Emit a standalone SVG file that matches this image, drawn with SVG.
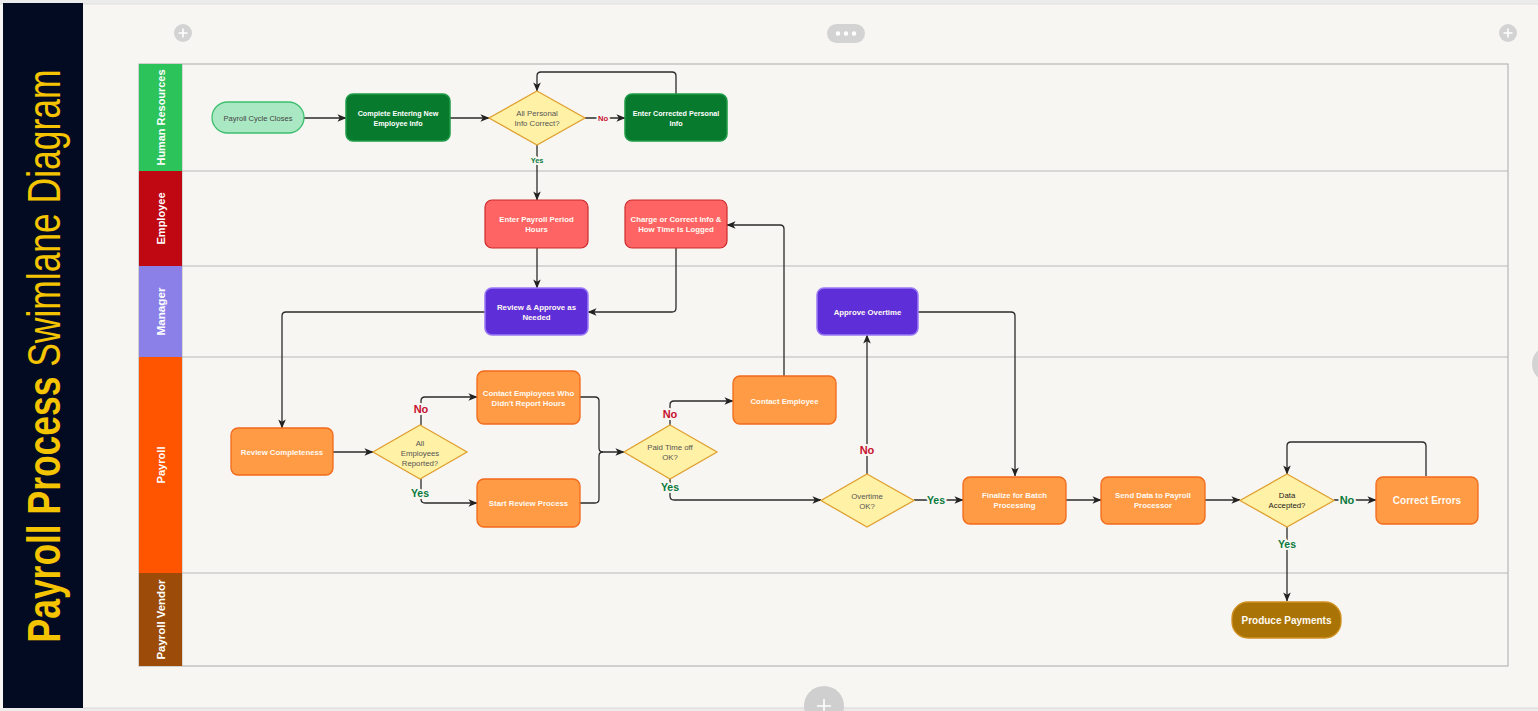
<svg xmlns="http://www.w3.org/2000/svg" width="1538" height="711" viewBox="0 0 1538 711">
<defs>
<marker id="arr" viewBox="0 0 10 10" refX="9.5" refY="5" markerWidth="9" markerHeight="9" orient="auto" markerUnits="userSpaceOnUse">
<path d="M0,0.8 L10,5 L0,9.2 L2.6,5 z" fill="#222"/>
</marker>
<style>
.c{fill:none;stroke:#2b2b2b;stroke-width:1.3}
.a{marker-end:url(#arr)}
text{font-family:"Liberation Sans",Arial,sans-serif}
.nt{font-weight:bold;fill:#fffaf2;text-anchor:middle;font-size:7.8px}
.ht{font-weight:bold;fill:#ffffff;text-anchor:middle;font-size:7.2px}
.dt{fill:#555;text-anchor:middle;font-size:7.8px}
.lbl{font-weight:bold;text-anchor:middle;paint-order:stroke;stroke:#f7f6f3;stroke-width:4px;stroke-linejoin:round}
.no{fill:#c8102e}
.yes{fill:#0b7a3b}
.lh{fill:#ffffff;text-anchor:middle;font-size:11.5px;font-weight:bold}
.hr{fill:#087a2e;stroke:#1f9c47;stroke-width:1.5}
.em{fill:#ff6464;stroke:#cc2b2b;stroke-width:1.2}
.mg{fill:#5e2ed8;stroke:#9a7af5;stroke-width:1.5}
.pr{fill:#ff9a45;stroke:#f26a1b;stroke-width:1.3}
.dm{fill:#fff1a6;stroke:#e0a030;stroke-width:1.3}
.ic{fill:#d3d3d3}
.pl{stroke:#fff;stroke-width:1.6;fill:none}
</style>
</defs>

<!-- canvas -->
<rect x="0" y="0" width="1538" height="711" fill="#f7f6f3"/>
<rect x="0" y="0" width="1538" height="4" fill="#ececec"/>
<line x1="0" y1="4" x2="1538" y2="4" stroke="#e0e0e0" stroke-width="1"/>
<rect x="0" y="708" width="1538" height="3" fill="#ececec"/>
<line x1="83" y1="708" x2="1538" y2="708" stroke="#d8d8d8" stroke-width="1"/>

<!-- title bar -->
<g id="title">
<rect x="3" y="3" width="80" height="705" fill="#020b22"/>
<text transform="translate(60,356) rotate(-90) scale(0.77,1)" text-anchor="middle" font-size="46" fill="#f5c400"><tspan font-weight="bold">Payroll Process</tspan> Swimlane Diagram</text>
</g>

<!-- UI icons -->
<g id="ui">
<circle cx="183" cy="33" r="9" class="ic"/>
<path d="M178.5,33 H187.5 M183,28.5 V37.5" class="pl"/>
<rect x="827" y="24" width="38" height="19" rx="9.5" class="ic"/>
<circle cx="838" cy="33.5" r="2.2" fill="#fff"/>
<circle cx="846" cy="33.5" r="2.2" fill="#fff"/>
<circle cx="854" cy="33.5" r="2.2" fill="#fff"/>
<circle cx="1508" cy="33" r="9" class="ic"/>
<path d="M1503.5,33 H1512.5 M1508,28.5 V37.5" class="pl"/>
<circle cx="1550" cy="364" r="18" class="ic"/>
<circle cx="824" cy="706" r="20" fill="#cfcfcf"/>
<path d="M817,706 H831 M824,699 V711" class="pl"/>
</g>

<!-- lanes -->
<g id="lanes">
<rect x="139" y="64" width="1369" height="602" fill="#f7f6f3" stroke="#b8b8b8" stroke-width="1.2"/>
<line x1="139" y1="171" x2="1508" y2="171" stroke="#b8b8b8" stroke-width="1.2"/>
<line x1="139" y1="266" x2="1508" y2="266" stroke="#b8b8b8" stroke-width="1.2"/>
<line x1="139" y1="357" x2="1508" y2="357" stroke="#b8b8b8" stroke-width="1.2"/>
<line x1="139" y1="573" x2="1508" y2="573" stroke="#b8b8b8" stroke-width="1.2"/>
<line x1="182" y1="64" x2="182" y2="666" stroke="#b8b8b8" stroke-width="1"/>
<g id="lane-hr"><rect x="139" y="64" width="43" height="107" fill="#2cc35a"/><text class="lh" transform="translate(165,117.5) rotate(-90)" textLength="96" lengthAdjust="spacingAndGlyphs">Human Resources</text></g>
<g id="lane-emp"><rect x="139" y="171" width="43" height="95" fill="#c00812"/><text class="lh" transform="translate(165,218.5) rotate(-90)" textLength="52" lengthAdjust="spacingAndGlyphs">Employee</text></g>
<g id="lane-mgr"><rect x="139" y="266" width="43" height="91" fill="#8b80e8"/><text class="lh" transform="translate(165,311.5) rotate(-90)" textLength="48" lengthAdjust="spacingAndGlyphs">Manager</text></g>
<g id="lane-pay"><rect x="139" y="357" width="43" height="216" fill="#ff5500"/><text class="lh" transform="translate(165,465) rotate(-90)" textLength="37" lengthAdjust="spacingAndGlyphs">Payroll</text></g>
<g id="lane-ven"><rect x="139" y="573" width="43" height="93" fill="#9c4c08"/><text class="lh" transform="translate(165,619.5) rotate(-90)" textLength="80" lengthAdjust="spacingAndGlyphs">Payroll Vendor</text></g>
</g>

<!-- connectors -->
<g id="connectors">
<path class="c a" d="M304,118 H346"/>
<path class="c a" d="M450,118 H489"/>
<path class="c a" d="M585,118 H625"/>
<path class="c a" d="M676,94 V76 Q676,72 672,72 H541 Q537,72 537,76 V91"/>
<path class="c a" d="M537,145 V200"/>
<path class="c a" d="M537,248 V288"/>
<path class="c a" d="M676,248 V308 Q676,312 672,312 H588"/>
<path class="c a" d="M485,312 H286 Q282,312 282,316 V428"/>
<path class="c a" d="M333,452 H373"/>
<path class="c a" d="M421,425 V401 Q421,397 425,397 H477"/>
<path class="c a" d="M421,479 V499 Q421,503 425,503 H477"/>
<path class="c a" d="M580,397 H595 Q599,397 599,401 V448 Q599,452 603,452 H624"/>
<path class="c" d="M580,503 H595 Q599,503 599,499 V456 Q599,452 603,452"/>
<path class="c a" d="M670,425 V405 Q670,401 674,401 H733"/>
<path class="c a" d="M670,479 V496 Q670,500 674,500 H821"/>
<path class="c a" d="M784,376 V229 Q784,225 780,225 H727"/>
<path class="c a" d="M867,474 V335"/>
<path class="c a" d="M914,500 H963"/>
<path class="c a" d="M917,312 H1011 Q1015,312 1015,316 V476"/>
<path class="c a" d="M1066,500 H1101"/>
<path class="c a" d="M1205,500 H1240"/>
<path class="c a" d="M1334,500 H1376"/>
<path class="c a" d="M1426,476 V446 Q1426,442 1422,442 H1291 Q1287,442 1287,446 V474"/>
<path class="c a" d="M1287,527 V601"/>
<text class="lbl no" x="603" y="121" font-size="7.6">No</text>
<text class="lbl yes" x="537" y="163" font-size="7.4">Yes</text>
<text class="lbl no" x="421" y="413" font-size="11">No</text>
<text class="lbl yes" x="420" y="497" font-size="10.5">Yes</text>
<text class="lbl no" x="670" y="418" font-size="11">No</text>
<text class="lbl yes" x="670" y="491" font-size="10.5">Yes</text>
<text class="lbl no" x="867" y="454" font-size="11">No</text>
<text class="lbl yes" x="936" y="504" font-size="10.5">Yes</text>
<text class="lbl yes" x="1347" y="504" font-size="11">No</text>
<text class="lbl yes" x="1287" y="548" font-size="10.5">Yes</text>
</g>

<!-- nodes -->
<g id="n-start"><rect x="212" y="102" width="92" height="31" rx="15.5" fill="#a9e8c3" stroke="#3dbf6e" stroke-width="1.3"/><text x="258" y="120.8" text-anchor="middle" font-size="7.5" fill="#444">Payroll Cycle Closes</text></g>
<g id="n-complete"><rect x="346" y="94" width="104" height="47" rx="7" class="hr"/><text class="ht" x="398" y="115.5">Complete Entering New</text><text class="ht" x="398" y="126">Employee Info</text></g>
<g id="n-d1"><polygon points="537,91 585,118 537,145 489,118" class="dm"/><text class="dt" x="537" y="115.5" font-size="7.5">All Personal</text><text class="dt" x="537" y="126" font-size="7.5">Info Correct?</text></g>
<g id="n-corrected"><rect x="625" y="94" width="102" height="47" rx="7" class="hr"/><text class="ht" x="676" y="115.5">Enter Corrected Personal</text><text class="ht" x="676" y="126">Info</text></g>
<g id="n-hours"><rect x="485" y="200" width="103" height="48" rx="7" class="em"/><text class="nt" x="536.5" y="222">Enter Payroll Period</text><text class="nt" x="536.5" y="232">Hours</text></g>
<g id="n-charge"><rect x="625" y="200" width="102" height="48" rx="7" class="em"/><text class="nt" x="676" y="222">Charge or Correct Info &amp;</text><text class="nt" x="676" y="232">How Time Is Logged</text></g>
<g id="n-review"><rect x="485" y="288" width="103" height="47" rx="7" class="mg"/><text class="nt" x="536.5" y="310">Review &amp; Approve as</text><text class="nt" x="536.5" y="319.5">Needed</text></g>
<g id="n-approve"><rect x="817" y="288" width="101" height="47" rx="7" class="mg"/><text class="nt" x="867.5" y="314.5">Approve Overtime</text></g>
<g id="n-completeness"><rect x="231" y="428" width="102" height="47" rx="7" class="pr"/><text class="nt" x="282" y="454.5">Review Completeness</text></g>
<g id="n-d2"><polygon points="420,425 467,452 420,479 373,452" class="dm"/><text class="dt" x="420" y="445.5">All</text><text class="dt" x="420" y="455.5">Employees</text><text class="dt" x="420" y="465.5">Reported?</text></g>
<g id="n-contact-all"><rect x="477" y="371" width="103" height="53" rx="7" class="pr"/><text class="nt" x="528.5" y="395.5">Contact Employees Who</text><text class="nt" x="528.5" y="405.5">Didn't Report Hours</text></g>
<g id="n-start-review"><rect x="477" y="479" width="103" height="48" rx="7" class="pr"/><text class="nt" x="528.5" y="506">Start Review Process</text></g>
<g id="n-d3"><polygon points="670,425 717,452 670,479 624,452" class="dm"/><text class="dt" x="670" y="450">Paid Time off</text><text class="dt" x="670" y="460">OK?</text></g>
<g id="n-contact"><rect x="733" y="376" width="103" height="48" rx="7" class="pr"/><text class="nt" x="784.5" y="403.5">Contact Employee</text></g>
<g id="n-d4"><polygon points="867,474 914,500.5 867,527 821,500.5" class="dm"/><text class="dt" x="867" y="498.5">Overtime</text><text class="dt" x="867" y="508.5">OK?</text></g>
<g id="n-finalize"><rect x="963" y="477" width="103" height="47" rx="7" class="pr"/><text class="nt" x="1014.5" y="498">Finalize for Batch</text><text class="nt" x="1014.5" y="508">Processing</text></g>
<g id="n-send"><rect x="1101" y="477" width="104" height="47" rx="7" class="pr"/><text class="nt" x="1153" y="498">Send Data to Payroll</text><text class="nt" x="1153" y="508">Processor</text></g>
<g id="n-d5"><polygon points="1287,474 1334,500.5 1287,527 1240,500.5" class="dm"/><text class="dt" x="1287" y="498" style="fill:#222">Data</text><text class="dt" x="1287" y="508" style="fill:#222">Accepted?</text></g>
<g id="n-errors"><rect x="1376" y="477" width="102" height="47" rx="7" class="pr"/><text x="1427" y="504" text-anchor="middle" font-size="10" font-weight="bold" fill="#fffaf2">Correct Errors</text></g>
<g id="n-pay"><rect x="1232" y="602" width="109" height="36" rx="16" fill="#a97405" stroke="#d09020" stroke-width="1.3"/><text x="1286.5" y="623.5" text-anchor="middle" font-size="10" font-weight="bold" fill="#fffaf2">Produce Payments</text></g>
</svg>
